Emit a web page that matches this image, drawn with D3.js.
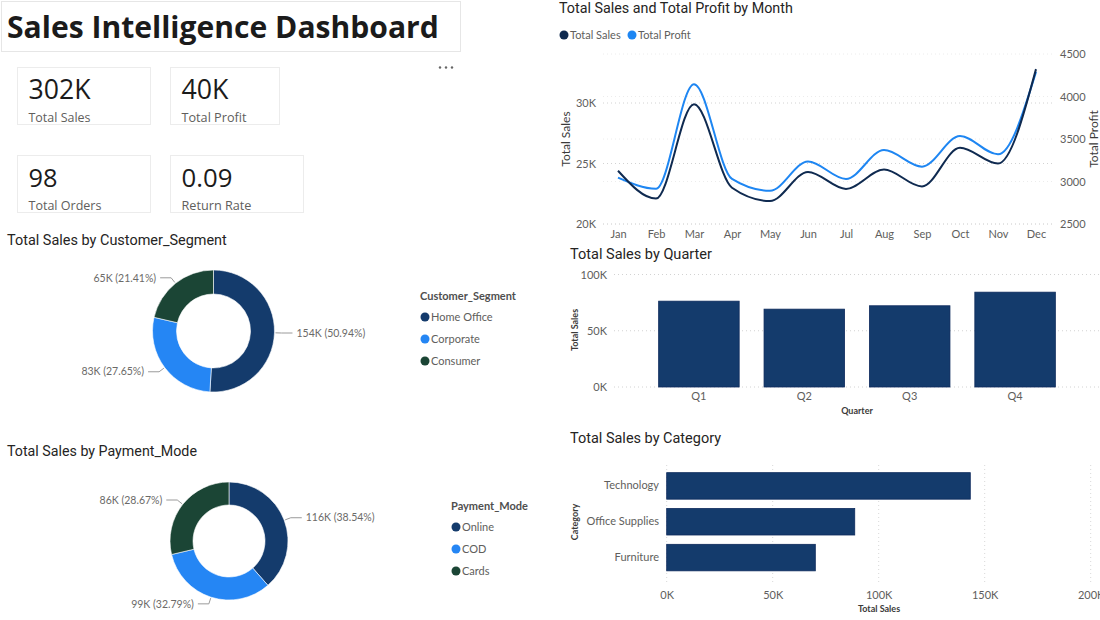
<!DOCTYPE html>
<html>
<head>
<meta charset="utf-8">
<script src="https://cdn.jsdelivr.net/npm/d3@7"></script>
<style>
  html, body { margin: 0; padding: 0; background: #ffffff; }
  svg { display: block; font-family: Lato, "Open Sans", sans-serif; }
</style>
</head>
<body>
<svg id="chart" width="1100" height="620"></svg>
<script>
// ---------------- DATA ----------------
const dashboardTitle = "Sales Intelligence Dashboard";
const kpiValues = ["302K", "40K", "98", "0.09"];
const kpiLabels = ["Total Sales", "Total Profit", "Total Orders", "Return Rate"];

const months = ["Jan","Feb","Mar","Apr","May","Jun","Jul","Aug","Sep","Oct","Nov","Dec"];
const monthlySales  = [24400, 22100, 29900, 23000, 21900, 24300, 22900, 24500, 23100, 26300, 25000, 32800];
const monthlyProfit = [3045, 2915, 4145, 3030, 2890, 3235, 3030, 3370, 3175, 3535, 3320, 4290];
const salesTicks = [20000, 25000, 30000];
const profitTicks = [2500, 3000, 3500, 4000, 4500];

const segments = ["Home Office", "Corporate", "Consumer"];
const segmentSales = [153584, 83365, 64551];

const payModes = ["Online", "COD", "Cards"];
const payModeSales = [116198, 98862, 86440];

const quarters = ["Q1", "Q2", "Q3", "Q4"];
const quarterSales = [76300, 69200, 72200, 84300];
const quarterTicks = [0, 50000, 100000];

const categories = ["Technology", "Office Supplies", "Furniture"];
const categorySales = [143200, 88700, 70100];
const categoryTicks = [0, 50000, 100000, 150000, 200000];

// ---------------- STYLE ----------------
const NAVY = "#143B6C", BLUE = "#2586F4", GREEN = "#1B4535";
const LINE_DARK = "#0F2A50", LINE_LIGHT = "#1E86F2";
const TXT = "#252423", GRAY = "#605E5C";
const kFmt = d => d3.format(".0f")(d / 1000) + "K";

const svg = d3.select("#chart");
svg.append("rect").attr("width", 1100).attr("height", 620).attr("fill", "#fff");

function fit(sel, w) {
  sel.each(function () {
    const cur = this.getComputedTextLength();
    const fs = parseFloat(d3.select(this).attr("font-size"));
    if (cur > 0) d3.select(this).attr("font-size", (fs * w / cur).toFixed(2));
  });
  return sel;
}
function title(x, y, text, w) {
  const t = svg.append("text").attr("x", x).attr("y", y).attr("font-family", "Roboto, 'Noto Sans', sans-serif")
    .attr("font-size", 13).attr("fill", TXT).text(text);
  fit(t, w);
  return t;
}

// ---------------- HEADER ----------------
svg.append("rect").attr("x", 1.5).attr("y", 1.5).attr("width", 459).attr("height", 50)
  .attr("fill", "none").attr("stroke", "#e6e6e6");
fit(svg.append("text").attr("x", 7).attr("y", 37.5)
  .attr("font-family", "'Open Sans', 'Noto Sans', sans-serif").attr("font-weight", 700)
  .attr("font-size", 31).attr("fill", "#1b1b1b").text(dashboardTitle), 432);

// dots menu
[440, 446, 452].forEach(x => svg.append("circle").attr("cx", x).attr("cy", 67.5).attr("r", 1.2).attr("fill", "#666"));

// KPI cards
const cards = [
  {x: 17.5, y: 67.5, w: 133, vw: 62, lw: 62},
  {x: 170.5, y: 67.5, w: 109, vw: 47, lw: 65},
  {x: 17.5, y: 155.5, w: 133, vw: 29, lw: 73},
  {x: 170.5, y: 155.5, w: 133, vw: 51, lw: 70}
];
cards.forEach((c, i) => {
  svg.append("rect").attr("x", c.x).attr("y", c.y).attr("width", c.w).attr("height", 57)
    .attr("fill", "#fff").attr("stroke", "#ececec");
  fit(svg.append("text").attr("x", c.x + 11).attr("y", c.y + 31.5)
    .attr("font-family", "'Open Sans', 'Noto Sans', sans-serif")
    .attr("font-size", 26).attr("fill", "#1b1b1b").text(kpiValues[i]), c.vw);
  fit(svg.append("text").attr("x", c.x + 11).attr("y", c.y + 54.5)
    .attr("font-family", "'Open Sans', 'Noto Sans', sans-serif")
    .attr("font-size", 14).attr("fill", GRAY).text(kpiLabels[i]), c.lw);
});

// ---------------- DONUTS ----------------
function donut(opts) {
  const {cx, cy, r, rin, names, values, colors, legendTitle, lx, ly, ldy} = opts;
  const total = d3.sum(values);
  const pie = d3.pie().sort(null).value(d => d)(values);
  const arc = d3.arc().innerRadius(rin).outerRadius(r);
  const g = svg.append("g").attr("transform", `translate(${cx},${cy})`);
  g.selectAll("path").data(pie).join("path")
    .attr("d", arc).attr("fill", (d, i) => colors[i]).attr("stroke", "#fff").attr("stroke-width", 0.6);
  pie.forEach((d, i) => {
    const a = (d.startAngle + d.endAngle) / 2;
    const s = Math.sin(a), c = Math.cos(a);
    const side = s >= 0 ? 1 : -1;
    const p1 = [(r + 1) * s, -(r + 1) * c];
    const p2 = [(r + 7) * s, -(r + 7) * c];
    const p3 = [p2[0] + side * 11, p2[1]];
    g.append("polyline").attr("points", [p1, p2, p3].map(p => p.join(",")).join(" "))
      .attr("fill", "none").attr("stroke", "#9a9a9a").attr("stroke-width", 1);
    g.append("text").attr("x", p3[0] + side * 4).attr("y", p3[1]).attr("dy", "0.35em")
      .attr("text-anchor", side > 0 ? "start" : "end")
      .attr("font-size", 10.5).attr("fill", "#6b6a68")
      .text(`${kFmt(values[i])} (${(values[i] / total * 100).toFixed(2)}%)`);
  });
  svg.append("text").attr("x", lx - 5).attr("y", ly - 17).attr("font-size", 11)
    .attr("font-weight", 700).attr("fill", "#4f4f4f").text(legendTitle);
  names.forEach((n, i) => {
    svg.append("circle").attr("cx", lx).attr("cy", ly + i * ldy).attr("r", 4.5).attr("fill", colors[i]);
    svg.append("text").attr("x", lx + 6).attr("y", ly + i * ldy).attr("dy", "0.35em")
      .attr("font-size", 11).attr("fill", GRAY).text(n);
  });
}

title(7, 245, "Total Sales by Customer_Segment", 220);
donut({cx: 213.5, cy: 331, r: 61, rin: 37, names: segments, values: segmentSales,
  colors: [NAVY, BLUE, GREEN], legendTitle: "Customer_Segment", lx: 425, ly: 317, ldy: 22});

title(7, 456, "Total Sales by Payment_Mode", 190);
donut({cx: 229, cy: 541, r: 59, rin: 36, names: payModes, values: payModeSales,
  colors: [NAVY, BLUE, GREEN], legendTitle: "Payment_Mode", lx: 456, ly: 527, ldy: 22});

// ---------------- LINE CHART ----------------
title(559, 13, "Total Sales and Total Profit by Month", 234);
[[564, LINE_DARK, "Total Sales"], [632, LINE_LIGHT, "Total Profit"]].forEach(([x, col, t]) => {
  svg.append("circle").attr("cx", x).attr("cy", 35).attr("r", 4.5).attr("fill", col);
  svg.append("text").attr("x", x + 6).attr("y", 35).attr("dy", "0.35em").attr("font-size", 11)
    .attr("fill", GRAY).text(t);
});

const xM = d3.scalePoint().domain(months).range([618, 1036]);
const yS = d3.scaleLinear().domain([20000, 30000]).range([224, 103]);
const yP = d3.scaleLinear().domain([2500, 4500]).range([224, 54]);

svg.append("g").selectAll("line").data(profitTicks).join("line")
  .attr("x1", 603).attr("x2", 1052).attr("y1", d => yP(d)).attr("y2", d => yP(d))
  .attr("stroke", "#ececec").attr("stroke-dasharray", "1,3");
svg.append("g").selectAll("line").data(salesTicks).join("line")
  .attr("x1", 603).attr("x2", 1052).attr("y1", d => yS(d)).attr("y2", d => yS(d))
  .attr("stroke", "#d2d2d2").attr("stroke-dasharray", "1,3");

function styleAxis(g) {
  g.select(".domain").remove();
  g.selectAll(".tick line").remove();
  g.selectAll("text").attr("fill", GRAY).attr("font-size", 11).attr("font-family", "Lato, 'Open Sans', sans-serif");
}
svg.append("g").attr("transform", "translate(600,0)")
  .call(d3.axisLeft(yS).tickValues(salesTicks).tickFormat(kFmt).tickSize(0).tickPadding(4)).call(styleAxis);
svg.append("g").attr("transform", "translate(1056,0)")
  .call(d3.axisRight(yP).tickValues(profitTicks).tickFormat(d3.format("d")).tickSize(0).tickPadding(4)).call(styleAxis);
svg.append("g").attr("transform", "translate(0,226)")
  .call(d3.axisBottom(xM).tickSize(0).tickPadding(4)).call(styleAxis);

svg.append("text").attr("transform", "translate(570,139) rotate(-90)").attr("text-anchor", "middle")
  .attr("font-size", 12).attr("fill", "#3b3a39").text("Total Sales");
svg.append("text").attr("transform", "translate(1098,139) rotate(-90)").attr("text-anchor", "middle")
  .attr("font-size", 12).attr("fill", "#3b3a39").text("Total Profit");

const lineS = d3.line().x((d, i) => xM(months[i])).y(d => yS(d)).curve(d3.curveMonotoneX);
const lineP = d3.line().x((d, i) => xM(months[i])).y(d => yP(d)).curve(d3.curveMonotoneX);
svg.append("path").attr("d", lineP(monthlyProfit)).attr("fill", "none").attr("stroke", LINE_LIGHT).attr("stroke-width", 2);
svg.append("path").attr("d", lineS(monthlySales)).attr("fill", "none").attr("stroke", LINE_DARK).attr("stroke-width", 2);

// ---------------- QUARTER BARS ----------------
title(570, 259, "Total Sales by Quarter", 142);
const xQ = d3.scaleBand().domain(quarters).range([646, 1068]).paddingInner(0.236).paddingOuter(0.12);
const yQ = d3.scaleLinear().domain([0, 100000]).range([387, 274.5]);
svg.append("g").selectAll("line").data(quarterTicks).join("line")
  .attr("x1", 614).attr("x2", 1100).attr("y1", d => yQ(d)).attr("y2", d => yQ(d))
  .attr("stroke", "#d2d2d2").attr("stroke-dasharray", "1,3");
svg.append("g").selectAll("rect").data(quarterSales).join("rect")
  .attr("x", (d, i) => xQ(quarters[i])).attr("width", xQ.bandwidth())
  .attr("y", d => yQ(d)).attr("height", d => yQ(0) - yQ(d))
  .attr("fill", NAVY).attr("stroke", "#0d2a5c").attr("stroke-width", 0.8);
svg.append("g").attr("transform", "translate(611,0)")
  .call(d3.axisLeft(yQ).tickValues(quarterTicks).tickFormat(kFmt).tickSize(0).tickPadding(4)).call(styleAxis);
svg.append("g").attr("transform", "translate(0,389)")
  .call(d3.axisBottom(xQ).tickSize(0).tickPadding(3)).call(styleAxis);
svg.append("text").attr("x", 857).attr("y", 414).attr("text-anchor", "middle").attr("font-size", 9)
  .attr("font-weight", 700).attr("fill", "#3b3a39").text("Quarter");
svg.append("text").attr("transform", "translate(578,330) rotate(-90)").attr("text-anchor", "middle")
  .attr("font-size", 9).attr("font-weight", 700).attr("fill", "#3b3a39").text("Total Sales");

// ---------------- CATEGORY BARS ----------------
title(570, 443, "Total Sales by Category", 151);
const xC = d3.scaleLinear().domain([0, 200000]).range([666.7, 1090.7]);
const yC = d3.scaleBand().domain(categories).range([468, 575.5]).paddingInner(0.26).paddingOuter(0.13);
svg.append("g").selectAll("line").data(categoryTicks).join("line")
  .attr("x1", d => xC(d)).attr("x2", d => xC(d)).attr("y1", 465).attr("y2", 583)
  .attr("stroke", "#d8d8d8").attr("stroke-dasharray", "1,3");
svg.append("g").selectAll("rect").data(categorySales).join("rect")
  .attr("x", xC(0)).attr("y", (d, i) => yC(categories[i])).attr("height", yC.bandwidth())
  .attr("width", d => xC(d) - xC(0))
  .attr("fill", NAVY).attr("stroke", "#0d2a5c").attr("stroke-width", 0.8);
svg.append("g").attr("transform", "translate(663,0)")
  .call(d3.axisLeft(yC).tickSize(0).tickPadding(4)).call(styleAxis);
svg.append("g").attr("transform", "translate(0,591)")
  .call(d3.axisBottom(xC).tickValues(categoryTicks).tickFormat(kFmt).tickSize(0).tickPadding(0)).call(styleAxis);
svg.append("text").attr("x", 879).attr("y", 612).attr("text-anchor", "middle").attr("font-size", 9)
  .attr("font-weight", 700).attr("fill", "#3b3a39").text("Total Sales");
svg.append("text").attr("transform", "translate(578,522) rotate(-90)").attr("text-anchor", "middle")
  .attr("font-size", 9).attr("font-weight", 700).attr("fill", "#3b3a39").text("Category");
</script>
</body>
</html>
